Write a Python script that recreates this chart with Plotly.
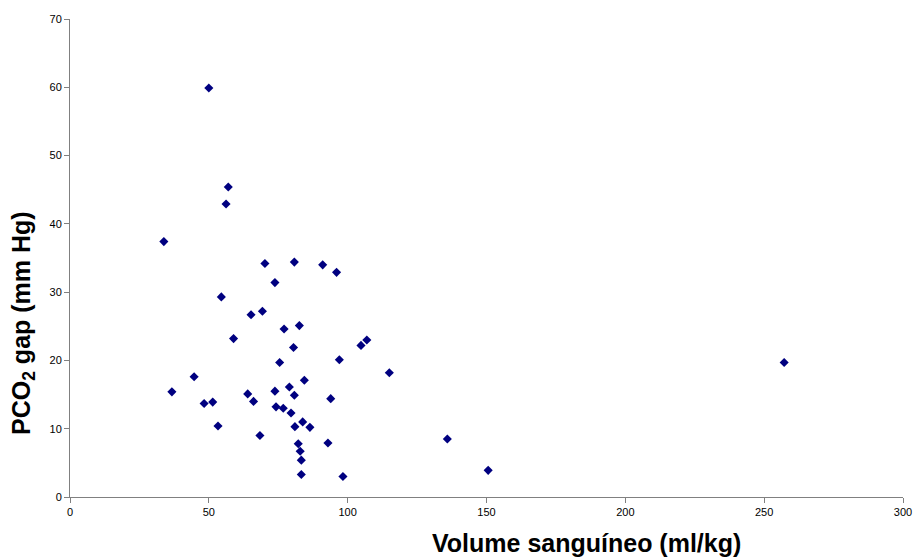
import plotly.graph_objects as go

volume = [50.0, 57.0, 56.2, 33.8, 70.2, 80.8, 91.0, 96.0, 73.8, 54.5,
          65.2, 69.3, 77.1, 82.6, 58.9, 80.5, 97.0, 75.5, 44.7, 84.4,
          36.7, 79.0, 73.8, 64.0, 80.8, 93.9, 66.1, 48.3, 51.4, 74.2,
          76.8, 79.6, 83.8, 81.0, 86.4, 53.3, 68.4, 82.2, 92.9, 82.9,
          83.3, 83.3, 98.3, 106.9, 104.8, 115.0, 135.9, 150.6, 257.2]
pco2_gap = [59.9, 45.4, 42.9, 37.4, 34.2, 34.4, 34.0, 32.9, 31.4, 29.3,
            26.7, 27.2, 24.6, 25.1, 23.2, 21.9, 20.1, 19.7, 17.6, 17.1,
            15.4, 16.1, 15.5, 15.1, 14.9, 14.4, 14.0, 13.7, 13.9, 13.2,
            13.0, 12.3, 11.0, 10.3, 10.2, 10.4, 9.0, 7.8, 7.9, 6.7,
            5.4, 3.3, 3.0, 23.0, 22.2, 18.2, 8.5, 3.9, 19.7]

x_ticks = [0, 50, 100, 150, 200, 250, 300]
y_ticks = [0, 10, 20, 30, 40, 50, 60, 70]

fig = go.Figure()
fig.add_trace(go.Scatter(
    x=volume, y=pco2_gap, mode="markers",
    marker=dict(symbol="diamond", size=7, color="#000080",
                line=dict(width=0)),
    showlegend=False,
))

axis_common = dict(
    showgrid=False, zeroline=False, showline=True, linecolor="#808080",
    linewidth=1, ticks="outside", ticklen=5, tickcolor="#808080",
    automargin=False,
    tickfont=dict(family="Liberation Sans, Arial, sans-serif", size=11, color="black"),
)
fig.update_xaxes(range=[0, 300], tickvals=x_ticks, **axis_common)
fig.update_yaxes(range=[0, 70], tickvals=y_ticks, **axis_common)

fig.add_annotation(
    text="<b>Volume sanguíneo (ml/kg)</b>", xref="paper", yref="paper",
    x=(586.7 - 70) / 833, y=-(542.7 - 497) / 478, showarrow=False,
    font=dict(family="Liberation Sans, Arial, sans-serif", size=25, color="black"),
    xanchor="center", yanchor="middle",
)
fig.add_annotation(
    text="<b>PCO<sub>2</sub> gap (mm Hg)</b>", xref="paper", yref="paper",
    x=-(70 - 23) / 833, y=(497 - 323) / 478, showarrow=False, textangle=-90,
    font=dict(family="Liberation Sans, Arial, sans-serif", size=25, color="black"),
    xanchor="center", yanchor="middle",
)

fig.update_layout(
    width=916, height=559,
    margin=dict(l=70, r=13, t=19, b=62),
    plot_bgcolor="white", paper_bgcolor="white",
)
fig.write_html("out.html")
